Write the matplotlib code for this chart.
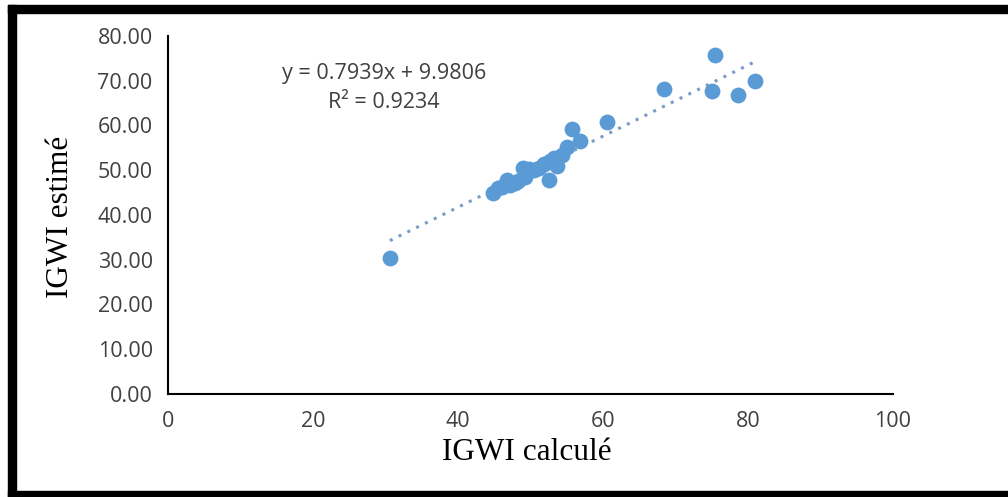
import matplotlib
matplotlib.use("Agg")
import matplotlib.pyplot as plt
from matplotlib.patches import Rectangle
import numpy as np

# Data
igwi_calcule = [30.6, 44.8, 45.5, 46.0, 46.8, 47.2, 47.8, 48.3, 49.0, 49.3, 49.8,
                50.5, 51.2, 51.8, 52.5, 52.7, 53.2, 53.6, 54.3, 55.0, 55.7, 56.8,
                60.6, 68.4, 75.0, 75.4, 78.6, 81.0]
igwi_estime = [30.4, 44.9, 46.0, 46.3, 47.8, 46.8, 47.2, 47.5, 50.5, 48.5, 50.3,
               50.0, 50.5, 51.5, 47.8, 52.0, 52.7, 51.0, 53.5, 55.2, 59.2, 56.5,
               60.8, 68.2, 67.7, 75.8, 66.8, 69.9]
slope, intercept = 0.7939, 9.9806
r2 = 0.9234

x_ticks = [0, 20, 40, 60, 80, 100]
y_ticks = [0, 10, 20, 30, 40, 50, 60, 70, 80]

W, H = 1008, 497
fig = plt.figure(figsize=(W / 100, H / 100), dpi=100)
fig.patch.set_facecolor("white")

ax = fig.add_axes([168 / W, 1 - 394 / H, (893 - 168) / W, (394 - 36) / H])
ax.set_xlim(0, 100)
ax.set_ylim(0, 80)

blue = "#5B9BD5"
ax.scatter(igwi_calcule, igwi_estime, s=130, color=blue, zorder=3, linewidths=0)
xl = np.array([min(igwi_calcule), max(igwi_calcule)])
ax.plot(xl, slope * xl + intercept, linestyle=(0, (1, 2.2)), color="#7A9CC6",
        linewidth=2.2, zorder=2)

for s in ["top", "right"]:
    ax.spines[s].set_visible(False)
for s in ["left", "bottom"]:
    ax.spines[s].set_linewidth(1.5)
    ax.spines[s].set_color("black")

ax.set_xticks(x_ticks)
ax.set_yticks(y_ticks)
ax.set_xticklabels([str(v) for v in x_ticks])
ax.set_yticklabels([f"{v:.2f}" for v in y_ticks])
ax.tick_params(length=0, labelsize=15.5, colors="#404040")
ax.tick_params(axis="x", pad=12)
ax.tick_params(axis="y", pad=11)
for lab in ax.get_xticklabels() + ax.get_yticklabels():
    lab.set_family("Open Sans")

ax.text(0.298, 0.894, f"y = {slope}x + {intercept}", transform=ax.transAxes,
        ha="center", va="center", fontsize=15.5, family="Open Sans", color="#404040")
ax.text(0.298, 0.813, f"R² = {r2}", transform=ax.transAxes,
        ha="center", va="center", fontsize=15.5, family="Open Sans", color="#404040")

fig.text(527 / W, 1 - 453 / H, "IGWI calculé", ha="center", va="center",
         fontsize=22.5, family="Liberation Serif", color="black")
fig.text(60 / W, 1 - 217 / H, "IGWI estimé", ha="center", va="center",
         rotation=90, fontsize=22.5, family="Liberation Serif", color="black")

# black frame
fig.patches.append(Rectangle((8 / W, 1 - 13 / H), 1 - 8 / W, 8 / H,
                             transform=fig.transFigure, color="black"))
fig.patches.append(Rectangle((8 / W, 1 - 497 / H), 8 / W, (497 - 5) / H,
                             transform=fig.transFigure, color="black"))
fig.patches.append(Rectangle((8 / W, 0), 1 - 8 / W, 6 / H,
                             transform=fig.transFigure, color="black"))

fig.savefig("out.png", dpi=100)
